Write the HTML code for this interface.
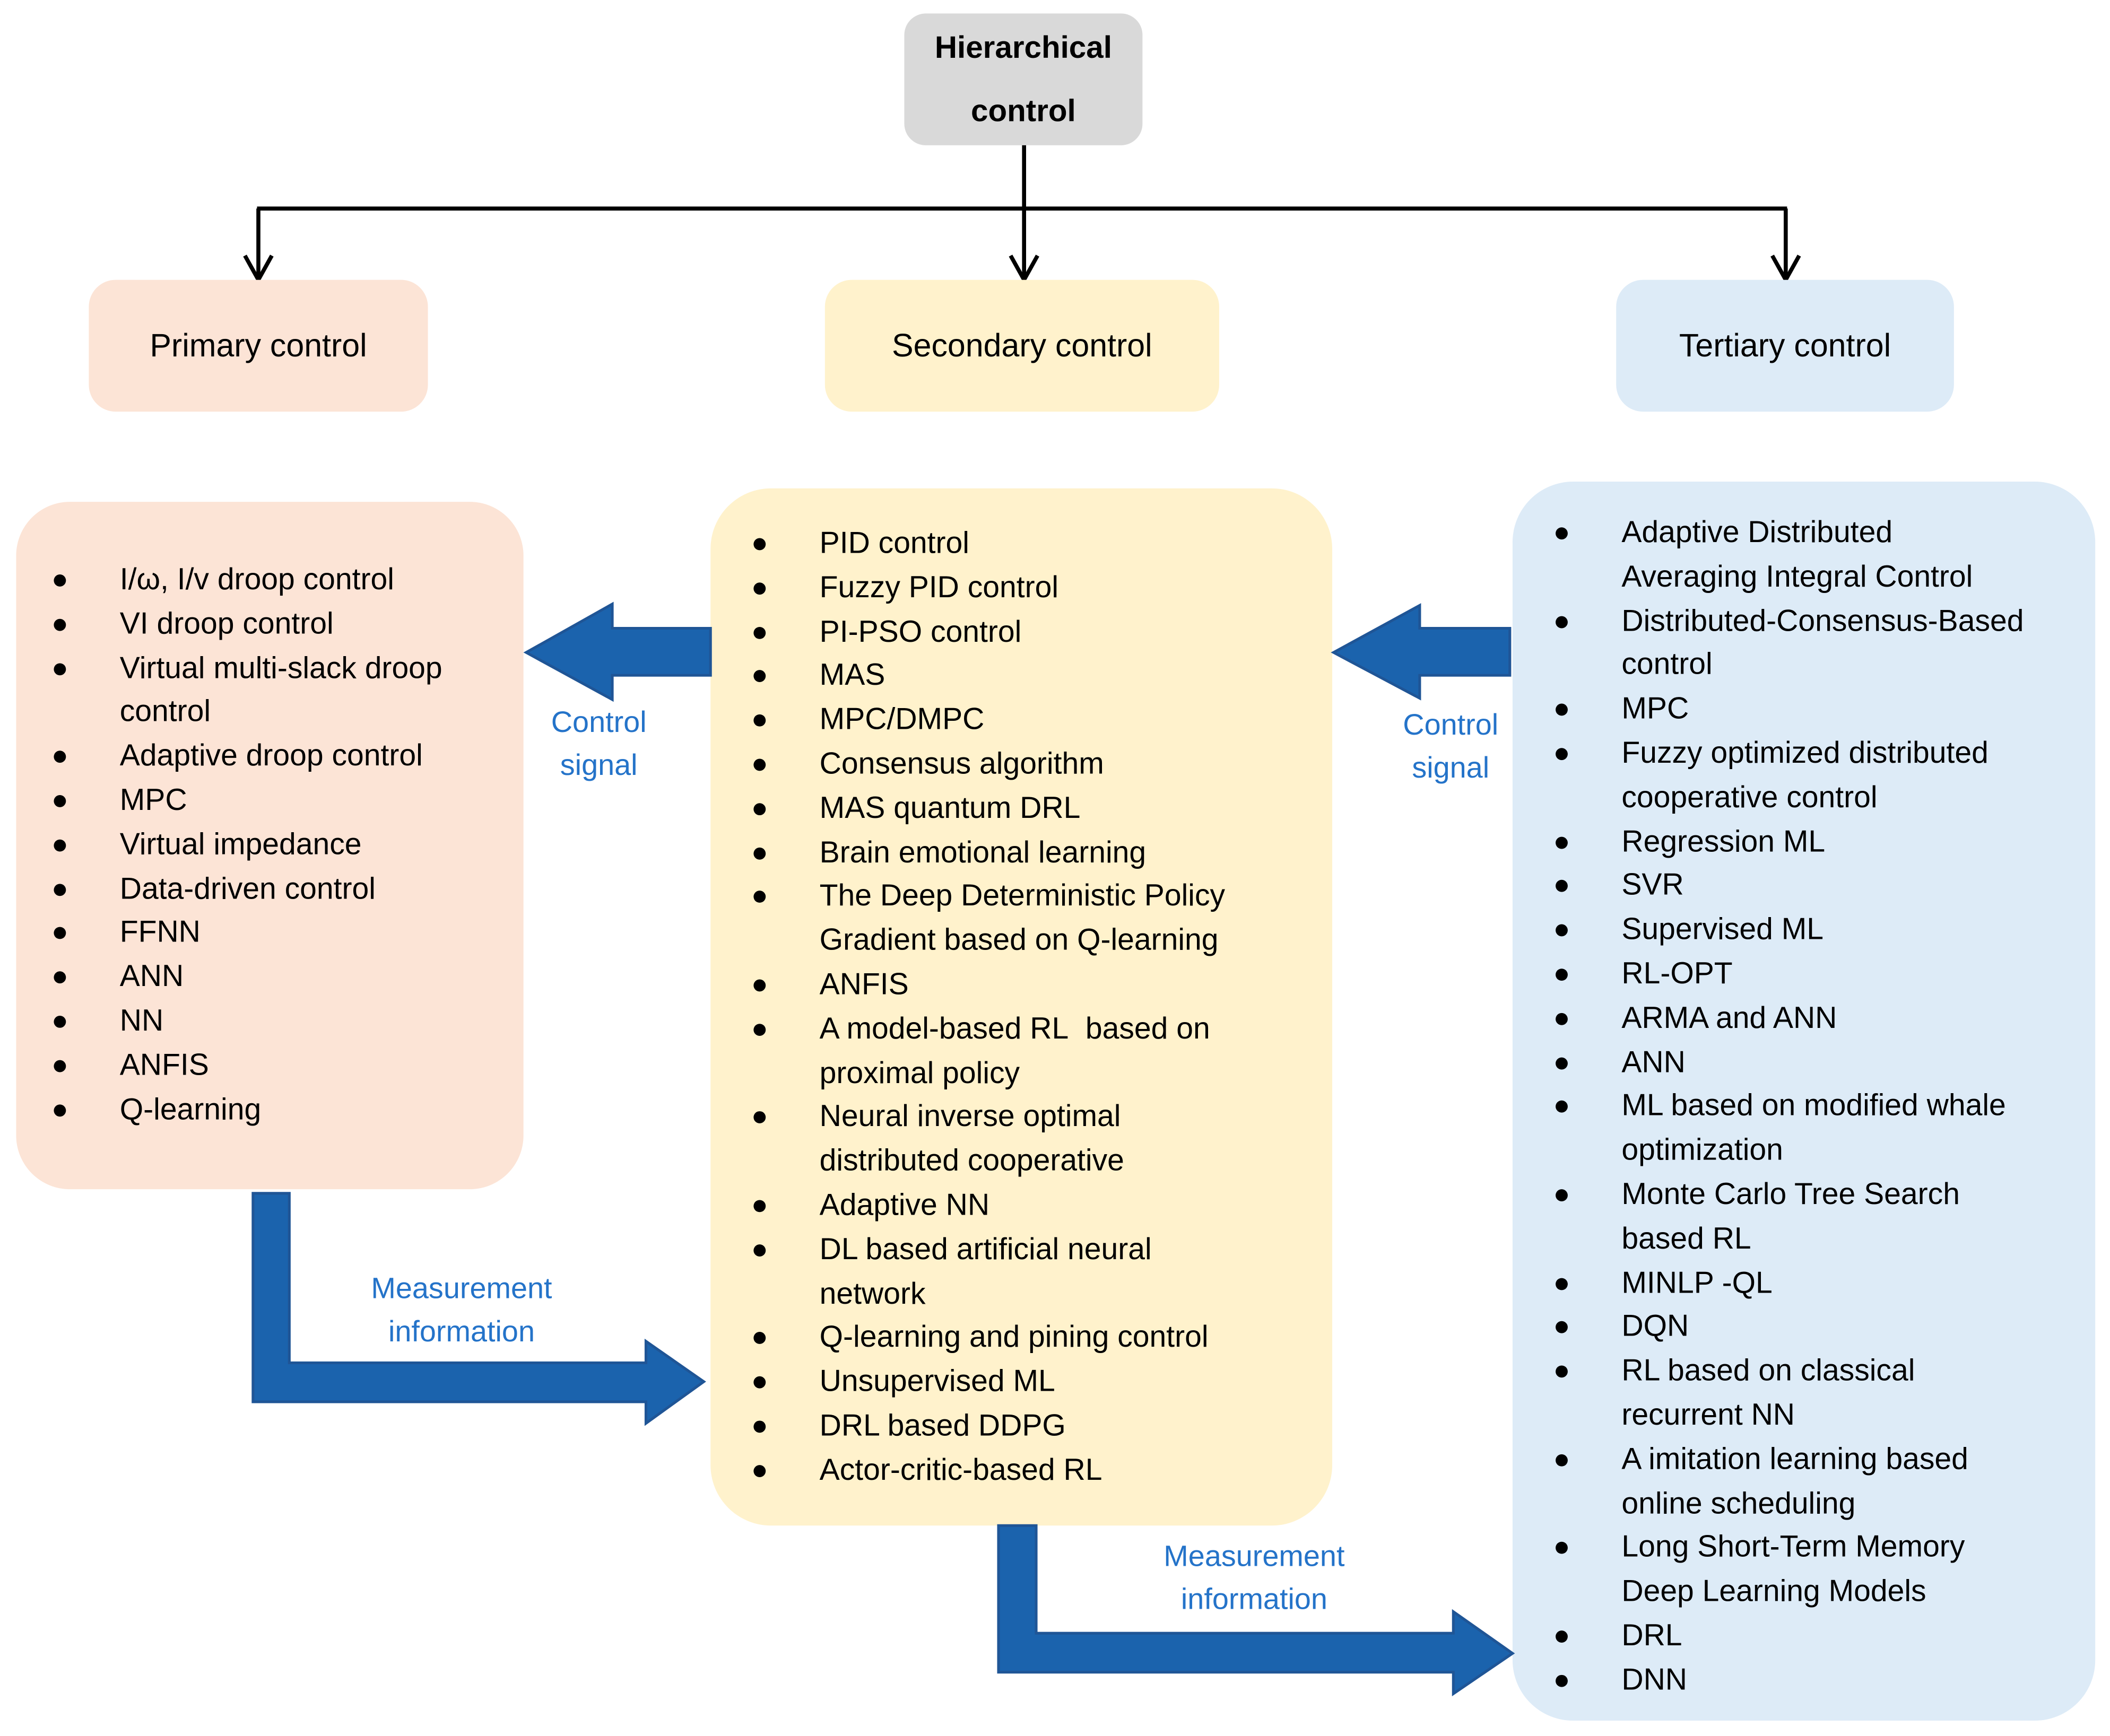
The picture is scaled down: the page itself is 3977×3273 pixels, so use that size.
<!DOCTYPE html>
<html><head><meta charset="utf-8"><style>
html,body{margin:0;padding:0;background:#fff;width:3977px;height:3273px;overflow:hidden}
#s{position:absolute;left:0;top:0;width:1568px;height:1290px;transform:scale(2.5364);transform-origin:0 0;font-family:"Liberation Sans",sans-serif;color:#000}
.b{position:absolute}
.t{position:absolute;white-space:nowrap;font-size:21.5px;line-height:32.8px}
.l{position:absolute;font-size:22.5px;line-height:32.8px;white-space:nowrap}
.l div{position:relative}
.l div:before{content:"";position:absolute;left:-49px;top:12px;width:9px;height:9px;border-radius:50%;background:#000}
.c{position:absolute;text-align:center;color:#2473c9;font-size:22px;line-height:32px;white-space:nowrap}
</style></head><body><div id="s">
<div class="b" style="left:672px;top:10px;width:177px;height:98px;background:#d9d9d9;border-radius:16px"></div>
<div class="t" style="left:672px;top:12px;width:177px;text-align:center;font-weight:bold;line-height:47px;font-size:23px">Hierarchical<br>control</div>
<svg class="b" style="left:0;top:0" width="1568" height="220">
<g stroke="#000" stroke-width="3" fill="none">
<line x1="761" y1="108" x2="761" y2="207"/>
<line x1="191" y1="155" x2="1328" y2="155"/>
<line x1="192" y1="155" x2="192" y2="207"/>
<line x1="1327" y1="155" x2="1327" y2="207"/>
<polyline points="182,190 192,208 202,190"/>
<polyline points="751,190 761,208 771,190"/>
<polyline points="1317,190 1327,208 1337,190"/>
</g></svg>
<div class="b" style="left:66px;top:208px;width:252px;height:98px;background:#fce4d6;border-radius:20px"></div>
<div class="b" style="left:613px;top:208px;width:293px;height:98px;background:#fff2cc;border-radius:20px"></div>
<div class="b" style="left:1201px;top:208px;width:251px;height:98px;background:#ddebf7;border-radius:20px"></div>
<div class="t" style="left:66px;top:242px;width:252px;text-align:center;font-size:24px">Primary control</div>
<div class="t" style="left:613px;top:242px;width:293px;text-align:center;font-size:24px">Secondary control</div>
<div class="t" style="left:1201px;top:242px;width:251px;text-align:center;font-size:24px">Tertiary control</div>

<div class="b" style="left:12px;top:373px;width:377px;height:511px;background:#fce4d6;border-radius:40px"></div>
<div class="b" style="left:528px;top:363px;width:462px;height:771px;background:#fff2cc;border-radius:45px"></div>
<div class="b" style="left:1124px;top:358px;width:433px;height:921px;background:#ddebf7;border-radius:45px"></div>

<div class="l" style="left:89px;top:415px">
<div>I/ω, I/v droop control</div><div>VI droop control</div><div>Virtual multi-slack droop<br>control</div><div>Adaptive droop control</div><div>MPC</div><div>Virtual impedance</div><div>Data-driven control</div><div>FFNN</div><div>ANN</div><div>NN</div><div>ANFIS</div><div>Q-learning</div>
</div>
<div class="l" style="left:609px;top:388px">
<div>PID control</div><div>Fuzzy PID control</div><div>PI-PSO control</div><div>MAS</div><div>MPC/DMPC</div><div>Consensus algorithm</div><div>MAS quantum DRL</div><div>Brain emotional learning</div><div>The Deep Deterministic Policy<br>Gradient based on Q-learning</div><div>ANFIS</div><div>A model-based RL&nbsp; based on<br>proximal policy</div><div>Neural inverse optimal<br>distributed cooperative</div><div>Adaptive NN</div><div>DL based artificial neural<br>network</div><div>Q-learning and pining control</div><div>Unsupervised ML</div><div>DRL based DDPG</div><div>Actor-critic-based RL</div>
</div>
<div class="l" style="left:1205px;top:380px">
<div>Adaptive Distributed<br>Averaging Integral Control</div><div>Distributed-Consensus-Based<br>control</div><div>MPC</div><div>Fuzzy optimized distributed<br>cooperative control</div><div>Regression ML</div><div>SVR</div><div>Supervised ML</div><div>RL-OPT</div><div>ARMA and ANN</div><div>ANN</div><div>ML based on modified whale<br>optimization</div><div>Monte Carlo Tree Search<br>based RL</div><div>MINLP -QL</div><div>DQN</div><div>RL based on classical<br>recurrent NN</div><div>A imitation learning based<br>online scheduling</div><div>Long Short-Term Memory<br>Deep Learning Models</div><div>DRL</div><div>DNN</div>
</div>

<svg class="b" style="left:0;top:0" width="1568" height="1290">
<g fill="#1b63ad" stroke="#1f5596" stroke-width="2">
<polygon points="528,467 455,467 455,449 391,485 455,520 455,502 528,502"/>
<polygon points="1122,467 1055,467 1055,450 991,485 1055,519 1055,502 1122,502"/>
<polygon points="188,887 215,887 215,1013 480,1013 480,997 523,1027 480,1058 480,1042 188,1042"/>
<polygon points="742,1134 770,1134 770,1214 1080,1214 1080,1198 1124,1229 1080,1259 1080,1243 742,1243"/>
</g></svg>
<div class="c" style="left:345px;top:521px;width:200px">Control<br>signal</div>
<div class="c" style="left:978px;top:523px;width:200px">Control<br>signal</div>
<div class="c" style="left:223px;top:942px;width:240px">Measurement<br>information</div>
<div class="c" style="left:812px;top:1141px;width:240px">Measurement<br>information</div>
</div></body></html>
